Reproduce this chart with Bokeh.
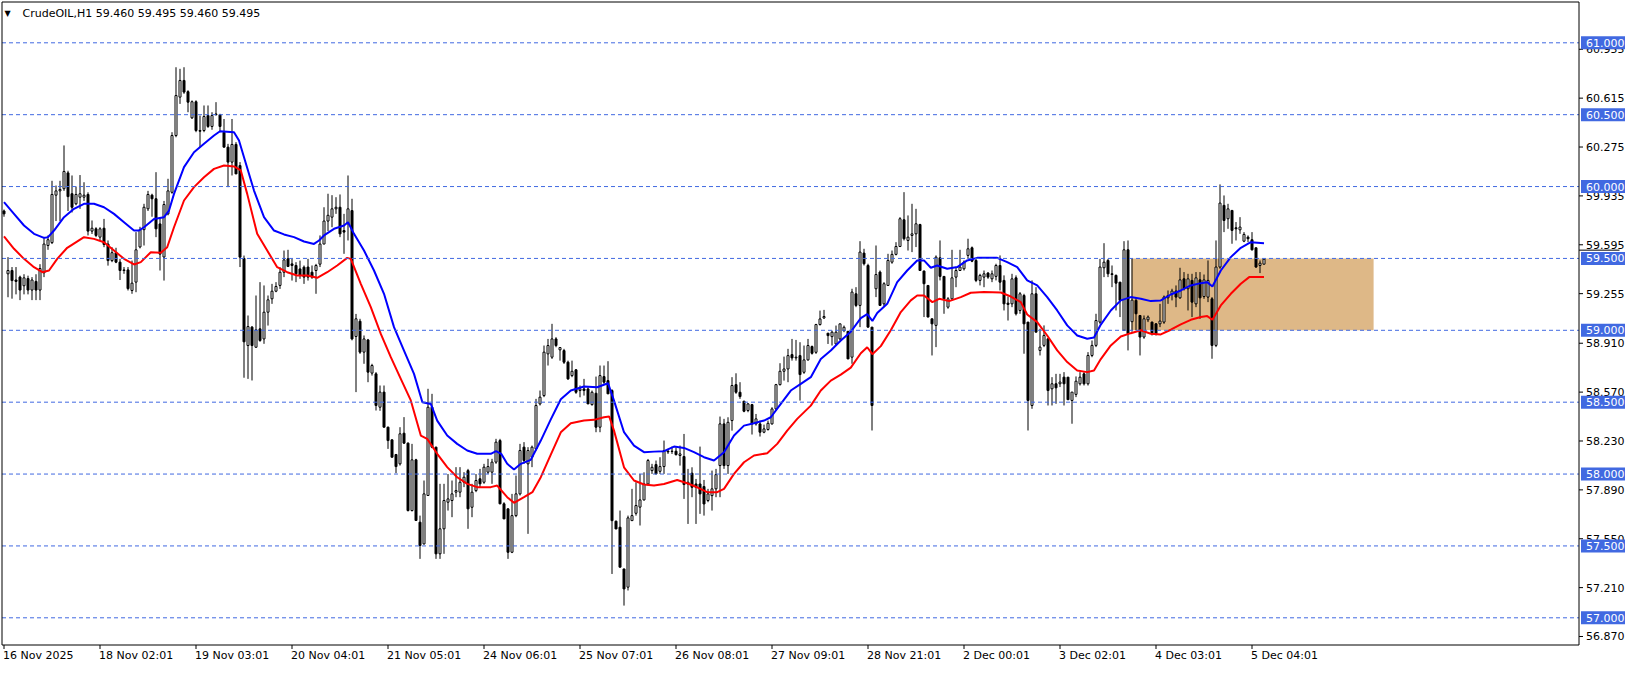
from bokeh.plotting import figure
from bokeh.models import Range1d, ColumnDataSource
from bokeh.core.properties import value
from bokeh.embed import file_html
from bokeh.resources import INLINE

# ---------------- data ----------------
symbol = "CrudeOIL,H1"

opens = [
    59.83, 59.393, 59.416, 59.35, 59.37, 59.31, 59.36, 59.28, 59.34, 59.28,
    59.40, 59.59, 59.61, 59.94, 59.97, 59.985, 60.095, 59.95, 59.88, 59.926,
    59.926, 59.945, 59.69, 59.706, 59.648, 59.71, 59.60, 59.485, 59.54, 59.474,
    59.42, 59.42, 59.277, 59.335, 59.58, 59.70, 59.845, 59.94, 59.915, 59.74,
    59.51, 59.81, 59.96, 60.355, 60.622, 60.738, 60.66, 60.478, 60.59, 60.39,
    60.39, 60.494, 60.418, 60.505, 60.50, 60.378, 60.274, 60.17, 60.293, 60.146,
    59.50, 58.894, 59.022, 58.882, 59.01, 58.94, 59.126, 59.219, 59.272, 59.312,
    59.404, 59.497, 59.462, 59.451, 59.427, 59.439, 59.44, 59.404, 59.416, 59.46,
    59.60, 59.76, 59.787, 59.845, 59.856, 59.694, 59.741, 59.833, 58.957, 59.063,
    58.848, 58.933, 58.702, 58.697, 58.465, 58.57, 58.326, 58.238, 58.136, 58.071,
    58.284, 58.215, 57.746, 58.099, 57.665, 57.514, 57.851, 58.465, 58.187, 57.445,
    57.619, 57.804, 57.816, 57.874, 57.874, 57.943, 58.024, 57.769, 57.885, 57.967,
    57.943, 58.013, 58.013, 58.083, 58.233, 57.793, 57.758, 57.456, 57.711, 57.862,
    58.187, 58.071, 58.117, 58.175, 58.488, 58.546, 58.836, 58.813, 58.94, 58.864,
    58.859, 58.778, 58.685, 58.725, 58.581, 58.592, 58.592, 58.483, 58.562, 58.326,
    58.678, 58.65, 58.581, 57.672, 57.63, 57.34, 57.213, 57.676, 57.727, 57.77,
    57.82, 57.931, 58.024, 58.066, 58.019, 58.052, 58.159, 58.157, 58.159, 58.129,
    58.122, 57.931, 58.006, 57.931, 57.931, 57.913, 57.816, 57.85, 57.897, 58.059,
    58.349, 58.059, 58.372, 58.622, 58.569, 58.507, 58.442, 58.483, 58.349, 58.349,
    58.291, 58.31, 58.349, 58.453, 58.622, 58.715, 58.731, 58.831, 58.808, 58.824,
    58.708, 58.794, 58.887, 58.847, 59.04, 59.086, 58.98, 58.956, 58.905, 58.94,
    58.998, 58.993, 58.813, 59.254, 59.173, 59.537, 59.451, 59.022, 59.289, 59.405,
    59.184, 59.312, 59.474, 59.528, 59.583, 59.769, 59.625, 59.66, 59.671, 59.736,
    59.412, 59.312, 59.08, 59.034, 59.504, 59.375, 59.161, 59.219, 59.37, 59.416,
    59.428, 59.521, 59.574, 59.486, 59.347, 59.37, 59.398, 59.358, 59.375, 59.451,
    59.347, 59.189, 59.184, 59.365, 59.138, 59.242, 59.057, 58.477, 59.254, 58.86,
    58.895, 58.941, 58.593, 58.628, 58.628, 58.674, 58.674, 58.512, 58.554, 58.628,
    58.697, 58.628, 58.825, 58.895, 59.057, 59.435, 59.486, 59.393, 59.382, 59.335,
    59.0, 59.56, 59.06, 59.208, 59.103, 58.953, 59.073, 59.057, 59.045, 59.045,
    59.057, 59.226, 59.254, 59.273, 59.226, 59.358, 59.289, 59.347, 59.184, 59.351,
    59.235, 59.231, 59.219, 58.895, 59.44, 59.869, 59.776, 59.834, 59.713, 59.699,
    59.62, 59.648, 59.63, 59.574, 59.451, 59.46,
]

highs = [
    59.84, 59.509, 59.44, 59.44, 59.38, 59.39, 59.38, 59.37, 59.39, 59.46,
    59.65, 59.66, 60.04, 60.007, 60.04, 60.286, 60.11, 60.077, 60.0, 60.08,
    60.03, 59.96, 59.764, 59.717, 59.717, 59.775, 59.625, 59.578, 59.574, 59.497,
    59.44, 59.44, 59.485, 59.683, 59.72, 59.88, 59.97, 59.95, 60.10, 59.787,
    59.90, 60.054, 60.378, 60.83, 60.819, 60.83, 60.67, 60.599, 60.60, 60.494,
    60.564, 60.564, 60.517, 60.587, 60.506, 60.47, 60.297, 60.47, 60.309, 60.17,
    59.52, 59.103, 59.03, 59.242, 59.335, 59.312, 59.242, 59.323, 59.335, 59.439,
    59.555, 59.56, 59.497, 59.474, 59.485, 59.451, 59.497, 59.451, 59.462, 59.66,
    59.856, 59.95, 59.94, 59.926, 59.945, 59.81, 60.077, 59.915, 59.114, 59.08,
    58.964, 58.94, 58.767, 58.709, 58.616, 58.616, 58.33, 58.24, 58.14, 58.326,
    58.396, 58.22, 58.21, 58.106, 57.711, 57.955, 58.593, 58.558, 58.19, 57.932,
    57.932, 58.0, 57.955, 58.048, 58.048, 58.013, 58.036, 57.932, 58.0, 58.036,
    58.071, 58.106, 58.106, 58.245, 58.245, 57.804, 57.76, 57.862, 57.99, 58.21,
    58.222, 58.187, 58.198, 58.523, 58.581, 58.894, 58.94, 59.045, 58.952, 58.882,
    58.871, 58.789, 58.789, 58.73, 58.616, 58.662, 58.604, 58.581, 58.678, 58.755,
    58.755, 58.785, 58.59, 57.676, 57.746, 57.34, 57.711, 57.897, 57.943, 58.001,
    58.012, 58.105, 58.071, 58.094, 58.117, 58.233, 58.175, 58.191, 58.186, 58.198,
    58.279, 58.036, 58.047, 57.966, 58.191, 57.959, 57.897, 58.024, 58.036, 58.4,
    58.384, 58.395, 58.674, 58.701, 58.639, 58.507, 58.493, 58.488, 58.418, 58.372,
    58.344, 58.372, 58.465, 58.627, 58.771, 58.817, 58.871, 58.94, 58.933, 58.917,
    58.894, 58.94, 58.894, 59.045, 59.137, 59.142, 58.98, 58.998, 59.033, 59.045,
    59.033, 58.993, 59.289, 59.3, 59.62, 59.567, 59.463, 59.022, 59.59, 59.416,
    59.335, 59.532, 59.555, 59.613, 59.787, 59.961, 59.799, 59.88, 59.845, 59.741,
    59.416, 59.312, 59.08, 59.521, 59.625, 59.375, 59.231, 59.56, 59.44, 59.56,
    59.486, 59.637, 59.583, 59.497, 59.393, 59.416, 59.405, 59.416, 59.463, 59.521,
    59.382, 59.235, 59.393, 59.382, 59.266, 59.254, 59.057, 59.347, 59.3, 59.011,
    59.034, 58.941, 58.674, 58.697, 58.697, 58.709, 58.674, 58.57, 58.679, 58.709,
    58.709, 58.848, 58.929, 59.115, 59.497, 59.606, 59.497, 59.451, 59.388, 59.335,
    59.62, 59.625, 59.50, 59.23, 59.103, 59.103, 59.103, 59.06, 59.05, 59.184,
    59.242, 59.277, 59.289, 59.312, 59.435, 59.405, 59.393, 59.393, 59.405, 59.405,
    59.388, 59.486, 59.231, 59.625, 60.015, 59.938, 59.88, 59.834, 59.753, 59.787,
    59.683, 59.66, 59.683, 59.574, 59.486, 59.495,
]

lows = [
    59.79, 59.23, 59.22, 59.25, 59.21, 59.25, 59.25, 59.21, 59.21, 59.21,
    59.37, 59.56, 59.60, 59.76, 59.76, 59.97, 59.83, 59.82, 59.87, 59.845,
    59.90, 59.66, 59.67, 59.648, 59.625, 59.578, 59.45, 59.474, 59.467, 59.35,
    59.393, 59.277, 59.254, 59.265, 59.57, 59.59, 59.83, 59.79, 59.648, 59.416,
    59.346, 59.80, 59.95, 60.343, 60.575, 60.645, 60.517, 60.47, 60.378, 60.274,
    60.378, 60.408, 60.395, 60.494, 60.378, 60.274, 59.996, 60.077, 60.088, 59.44,
    58.67, 58.662, 58.651, 58.88, 58.92, 58.906, 59.033, 59.184, 59.265, 59.288,
    59.37, 59.44, 59.346, 59.335, 59.358, 59.323, 59.346, 59.358, 59.254, 59.44,
    59.60, 59.69, 59.717, 59.81, 59.648, 59.532, 59.625, 58.93, 58.57, 58.836,
    58.767, 58.639, 58.685, 58.442, 58.44, 58.326, 58.175, 58.117, 58.006, 58.059,
    58.21, 57.74, 57.74, 57.675, 57.41, 57.51, 57.85, 58.18, 57.41, 57.41,
    57.445, 57.746, 57.70, 57.839, 57.839, 57.909, 57.619, 57.70, 57.874, 57.909,
    57.932, 58.0, 57.932, 58.071, 57.79, 57.688, 57.41, 57.45, 57.70, 57.851,
    58.071, 57.584, 58.048, 58.164, 58.477, 58.535, 58.755, 58.801, 58.882, 58.789,
    58.766, 58.655, 58.674, 58.558, 58.534, 58.546, 58.488, 58.476, 58.291, 58.291,
    58.627, 58.558, 57.305, 57.618, 57.352, 57.085, 57.19, 57.676, 57.711, 57.642,
    57.816, 57.92, 58.001, 58.0, 58.001, 58.001, 58.14, 58.14, 58.129, 58.059,
    57.827, 57.653, 57.839, 57.653, 57.723, 57.711, 57.804, 57.746, 57.839, 57.839,
    58.036, 58.001, 58.302, 58.558, 58.523, 58.43, 58.43, 58.275, 58.337, 58.261,
    58.284, 58.302, 58.344, 58.442, 58.616, 58.65, 58.639, 58.789, 58.789, 58.511,
    58.697, 58.789, 58.831, 58.836, 59.033, 59.079, 58.905, 58.894, 58.894, 58.933,
    58.987, 58.80, 58.767, 59.161, 59.022, 59.451, 59.02, 58.303, 59.231, 59.173,
    59.161, 59.31, 59.463, 59.521, 59.579, 59.625, 59.555, 59.544, 59.579, 59.416,
    59.092, 59.092, 58.825, 58.883, 59.347, 59.115, 59.15, 59.208, 59.3, 59.416,
    59.416, 59.497, 59.474, 59.335, 59.312, 59.3, 59.358, 59.335, 59.347, 59.277,
    59.138, 59.068, 59.161, 59.103, 59.115, 58.837, 58.303, 58.454, 58.987, 58.825,
    58.883, 58.477, 58.477, 58.489, 58.605, 58.477, 58.517, 58.35, 58.535, 58.616,
    58.616, 58.616, 58.813, 58.883, 59.045, 59.37, 59.37, 59.3, 59.138, 59.092,
    59.0, 58.86, 58.99, 59.00, 58.825, 58.941, 59.057, 58.964, 58.964, 59.022,
    59.045, 59.184, 59.208, 59.161, 59.219, 59.277, 59.138, 59.092, 59.161, 59.08,
    59.219, 59.196, 58.802, 58.883, 59.428, 59.683, 59.706, 59.602, 59.625, 59.671,
    59.613, 59.613, 59.555, 59.435, 59.398, 59.46,
]

closes = [
    59.81, 59.416, 59.346, 59.34, 59.28, 59.365, 59.28, 59.35, 59.28, 59.43,
    59.60, 59.63, 59.945, 59.97, 59.98, 60.105, 59.93, 59.856, 59.945, 59.95,
    59.94, 59.69, 59.71, 59.66, 59.706, 59.597, 59.485, 59.54, 59.474, 59.416,
    59.416, 59.29, 59.328, 59.56, 59.70, 59.856, 59.945, 59.915, 59.706, 59.53,
    59.875, 59.97, 60.355, 60.633, 60.738, 60.657, 60.587, 60.59, 60.39, 60.385,
    60.487, 60.418, 60.494, 60.50, 60.418, 60.274, 60.17, 60.293, 60.088, 59.509,
    58.92, 59.026, 58.894, 59.003, 58.929, 59.126, 59.212, 59.272, 59.305, 59.404,
    59.49, 59.444, 59.451, 59.393, 59.381, 59.37, 59.37, 59.37, 59.451, 59.60,
    59.76, 59.80, 59.845, 59.856, 59.671, 59.683, 59.845, 58.94, 59.08, 58.848,
    58.94, 58.709, 58.755, 58.477, 58.57, 58.326, 58.233, 58.117, 58.052, 58.28,
    58.215, 57.746, 58.099, 57.677, 57.503, 57.862, 58.465, 58.187, 57.445, 57.619,
    57.816, 57.827, 57.862, 57.885, 57.943, 57.978, 57.758, 57.874, 57.955, 57.932,
    58.048, 58.052, 58.083, 58.222, 57.793, 57.688, 57.456, 57.711, 57.862, 58.164,
    58.094, 58.164, 58.187, 58.477, 58.535, 58.848, 58.894, 58.94, 58.894, 58.88,
    58.778, 58.662, 58.715, 58.569, 58.592, 58.581, 58.488, 58.569, 58.326, 58.685,
    58.639, 58.558, 57.676, 57.618, 57.352, 57.201, 57.695, 57.711, 57.781, 57.82,
    57.931, 58.094, 58.047, 58.001, 58.052, 58.163, 58.154, 58.159, 58.135, 58.14,
    57.927, 57.943, 57.908, 57.908, 57.862, 57.792, 57.862, 57.897, 57.996, 58.349,
    58.059, 58.36, 58.616, 58.569, 58.539, 58.437, 58.488, 58.349, 58.384, 58.291,
    58.314, 58.353, 58.453, 58.622, 58.715, 58.731, 58.824, 58.808, 58.813, 58.692,
    58.794, 58.894, 58.84, 59.04, 59.079, 59.096, 58.963, 58.987, 58.987, 59.045,
    59.021, 58.801, 59.266, 59.173, 59.544, 59.463, 59.022, 58.477, 59.388, 59.173,
    59.324, 59.486, 59.528, 59.583, 59.776, 59.637, 59.648, 59.671, 59.741, 59.416,
    59.324, 59.092, 59.045, 59.509, 59.375, 59.219, 59.219, 59.365, 59.416, 59.44,
    59.474, 59.567, 59.481, 59.347, 59.382, 59.393, 59.37, 59.393, 59.451, 59.335,
    59.184, 59.18, 59.358, 59.115, 59.254, 59.045, 58.512, 59.254, 58.987, 58.883,
    58.964, 58.581, 58.628, 58.6, 58.64, 58.628, 58.517, 58.57, 58.646, 58.674,
    58.628, 58.825, 58.895, 59.068, 59.44, 59.474, 59.393, 59.388, 59.328, 59.208,
    59.56, 58.976, 59.21, 59.115, 58.953, 59.08, 59.092, 58.976, 58.976, 59.064,
    59.231, 59.242, 59.273, 59.231, 59.351, 59.289, 59.358, 59.196, 59.365, 59.226,
    59.351, 59.347, 58.895, 59.44, 59.885, 59.764, 59.845, 59.695, 59.706, 59.718,
    59.667, 59.637, 59.56, 59.44, 59.467, 59.495,
]

# moving averages, sampled along the drawn lines (bar index, price)
blue_ma_bar = [0, 2.5, 5, 7.5, 10, 11, 12.5, 15, 17.5, 20, 22.5, 25, 27.5, 30, 32.5, 33.75, 35, 37.5, 40, 41.25,
               42.5, 45, 47.5, 50, 52.5, 54, 57.5, 58.75, 60, 62.5, 65, 67.5, 70, 72.5, 75, 77.5, 78.75, 80, 82.5, 85,
               86, 87.5, 90, 92.5, 95, 97.5, 100, 102.5, 104.6, 106.7, 108.3, 110.8, 113.3, 115.8, 118.3, 121.7, 123,
               124.3, 125.8, 127.5, 129.2, 131.7, 134.2, 136.7, 139.2, 141.7, 145, 148.3, 151, 152.5, 155, 157.5, 160,
               162.5, 165, 167.5, 170, 172.5, 175, 177.5, 180, 182.5, 185, 187.5, 190, 191.7, 194.2, 196.7, 199.2,
               201.7, 204.2, 206.7, 209.2, 211.7, 214.2, 215.8, 217.1, 218.3, 220.8, 223.3, 225.8, 228.3, 230, 231.7,
               233.3, 235.8, 238.3, 240.8, 243.3, 248.3, 250.8, 253.3, 255.8, 258.3, 260.8, 263.3, 265.8, 268.3, 270.8,
               272.5, 274.2, 276.7, 279.2, 281.7, 284.2, 286.7, 289.2, 291.7, 294.2, 296.7, 299.2, 300.8, 302.1, 304.2,
               306.7, 309.2, 311.7, 315]
blue_ma_val = [59.891, 59.81, 59.729, 59.671, 59.643, 59.648, 59.694, 59.787, 59.845, 59.88, 59.88, 59.856, 59.81,
               59.752, 59.694, 59.694, 59.717, 59.775, 59.787, 59.833, 59.949, 60.135, 60.239, 60.297, 60.355, 60.385,
               60.378, 60.32, 60.204, 59.972, 59.787, 59.694, 59.667, 59.648, 59.618, 59.601, 59.625, 59.66, 59.706,
               59.729, 59.752, 59.671, 59.555, 59.416, 59.254, 59.022, 58.859, 58.697, 58.5, 58.488, 58.372, 58.268,
               58.21, 58.164, 58.141, 58.141, 58.159, 58.141, 58.071, 58.032, 58.071, 58.099, 58.233, 58.38, 58.52,
               58.581, 58.609, 58.604, 58.632, 58.511, 58.291, 58.198, 58.152, 58.156, 58.159, 58.191, 58.182, 58.152,
               58.117, 58.094, 58.152, 58.268, 58.337, 58.353, 58.372, 58.395, 58.488, 58.581, 58.627, 58.674, 58.801,
               58.859, 58.929, 58.99, 59.085, 59.112, 59.065, 59.12, 59.184, 59.335, 59.416, 59.486, 59.486, 59.435,
               59.451, 59.428, 59.44, 59.486, 59.504, 59.504, 59.474, 59.44, 59.347, 59.312, 59.231, 59.138, 59.034,
               58.964, 58.941, 58.95, 59.04, 59.138, 59.208, 59.231, 59.219, 59.203, 59.208, 59.249, 59.277, 59.312,
               59.328, 59.335, 59.305, 59.416, 59.509, 59.574, 59.613, 59.606]

red_ma_bar = [0, 2.5, 5, 7.5, 9.6, 11.25, 13.3, 15.8, 20, 22.5, 25, 27.5, 30, 32.5, 34.2, 36.7, 39.2, 40.8, 42.5, 45,
              47.5, 50, 52.5, 55, 57.5, 59.2, 60.8, 63.3, 65.8, 68.3, 70.8, 73.3, 75.8, 78.3, 80.8, 83.3, 85.8, 86.7,
              89.2, 91.7, 94.2, 96.7, 99.2, 101.7, 104.2, 105.8, 108.3, 110.8, 113.3, 115.8, 118.3, 121.7, 123.3,
              125.8, 127.5, 130, 132.1, 134.2, 136.7, 139.2, 141.7, 145, 147.5, 150, 151.3, 152.5, 155, 157.5, 160,
              162.5, 165, 168.3, 170.8, 173.3, 175.8, 178.3, 180, 182.5, 185, 187.5, 190.8, 193.3, 195.8, 198.3,
              201.7, 204.2, 206.7, 209.2, 211.7, 214.2, 215.8, 217.1, 219.2, 221.7, 224.2, 226.7, 228.3, 230, 232.1,
              233.8, 236.3, 239.2, 241.7, 245, 249.2, 251.7, 254.2, 255.8, 258.3, 260.8, 263.3, 265.8, 268.3, 270.8,
              272.5, 274.2, 276.7, 279.2, 281.7, 284.2, 286.7, 289.2, 291.7, 294.2, 296.7, 299.2, 300.8, 302.1, 304.2,
              306.7, 309.2, 311.3, 315]
red_ma_val = [59.653, 59.567, 59.497, 59.439, 59.404, 59.416, 59.497, 59.574, 59.648, 59.636, 59.613, 59.555, 59.497,
              59.458, 59.474, 59.543, 59.539, 59.578, 59.717, 59.903, 59.996, 60.065, 60.123, 60.146, 60.14, 60.112,
              59.949, 59.671, 59.555, 59.439, 59.404, 59.381, 59.381, 59.365, 59.404, 59.451, 59.504, 59.497, 59.323,
              59.161, 58.975, 58.813, 58.662, 58.512, 58.268, 58.245, 58.141, 58.048, 57.978, 57.932, 57.909, 57.909,
              57.92, 57.839, 57.8, 57.839, 57.874, 57.978, 58.135, 58.29, 58.353, 58.372, 58.377, 58.395, 58.4,
              58.302, 58.047, 57.955, 57.927, 57.92, 57.931, 57.959, 57.936, 57.908, 57.874, 57.874, 57.897, 58.001,
              58.082, 58.129, 58.145, 58.21, 58.302, 58.384, 58.476, 58.581, 58.65, 58.692, 58.74, 58.84, 58.882,
              58.834, 58.89, 59.0, 59.127, 59.208, 59.242, 59.242, 59.196, 59.219, 59.203, 59.231, 59.261, 59.266,
              59.263, 59.235, 59.196, 59.11, 59.057, 58.964, 58.86, 58.779, 58.721, 58.709, 58.721, 58.8, 58.895,
              58.957, 58.98, 59.0, 58.976, 58.971, 59.004, 59.041, 59.073, 59.092, 59.099, 59.073, 59.173, 59.254,
              59.324, 59.37, 59.37]

level_lines = [57.0, 57.5, 58.0, 58.5, 59.0, 59.5, 60.0, 60.5, 61.0]
price_ticks = [56.870, 57.210, 57.550, 57.890, 58.230, 58.570, 58.910, 59.255, 59.595, 59.935, 60.275, 60.615, 60.955]

date_tick_bars = [0, 24, 48, 72, 96, 120, 144, 168, 192, 216, 240, 264, 288, 312]
date_labels = ["16 Nov 2025", "18 Nov 02:01", "19 Nov 03:01", "20 Nov 04:01", "21 Nov 05:01", "24 Nov 06:01",
               "25 Nov 07:01", "26 Nov 08:01", "27 Nov 09:01", "28 Nov 21:01", "2 Dec 00:01", "3 Dec 02:01",
               "4 Dec 03:01", "5 Dec 04:01"]

zone_left_bar, zone_right_bar = 281.9, 342.4
zone_top, zone_bottom = 59.5, 59.0

# ---------------- layout (pixel geometry of the canvas) ----------------
FONT = value("DejaVu Sans")
FS = value("11px")
W, H = 1625, 662
PPB = 4.0                 # pixels per bar
X0 = -0.875               # bar value at the left canvas edge
X1 = X0 + W / PPB
PPU = 143.75              # pixels per price unit
Y1 = 61 + 42.3 / PPU      # price at the top canvas edge
Y0 = Y1 - H / PPU


def dx(px):
    return X0 + px / PPB


def dy(py):
    return Y1 - py / PPU


BOX_L, BOX_R, BOX_T, BOX_B = 1.5, 1578.5, 1.5, 644.5

p = figure(width=W, height=H, output_backend="svg", toolbar_location=None,
           x_range=Range1d(X0, X1), y_range=Range1d(Y0, Y1),
           x_axis_location=None, y_axis_location=None, min_border=0)
p.grid.visible = False
p.outline_line_color = None
p.background_fill_color = "white"
p.border_fill_color = "white"

# zone rectangle (behind the candles)
p.quad(left=[zone_left_bar], right=[zone_right_bar], top=[zone_top], bottom=[zone_bottom],
       fill_color="#DEB887", line_color=None)

# candles
n = len(closes)
src = ColumnDataSource(dict(
    x=list(range(n)), l=lows, h=highs,
    top=[max(a, b) for a, b in zip(opens, closes)],
    bot=[min(a, b) for a, b in zip(opens, closes)],
    fill=["white" if c >= o else "black" for o, c in zip(opens, closes)],
))
p.segment(x0="x", y0="l", x1="x", y1="h", source=src, line_color="black", line_width=1)
p.vbar(x="x", width=0.5, top="top", bottom="bot", fill_color="fill", line_color="black",
       line_width=1, source=src)

# moving averages
p.line(blue_ma_bar, blue_ma_val, line_color="#0000FF", line_width=2)
p.line(red_ma_bar, red_ma_val, line_color="#FF0000", line_width=2)

# horizontal level lines
nl = len(level_lines)
p.segment(x0=[dx(BOX_L)] * nl, x1=[dx(BOX_R)] * nl, y0=level_lines, y1=level_lines,
          line_color="#4169E1", line_width=1, line_dash="4 3")

# chart box
p.segment(x0=[dx(BOX_L), dx(BOX_L), dx(BOX_L), dx(BOX_R)],
          x1=[dx(BOX_R), dx(BOX_R), dx(BOX_L), dx(BOX_R)],
          y0=[dy(BOX_T), dy(BOX_B), dy(BOX_T), dy(BOX_T)],
          y1=[dy(BOX_T), dy(BOX_B), dy(BOX_B), dy(BOX_B)],
          line_color="black", line_width=1)

# price scale on the right: ticks + labels
nt = len(price_ticks)
p.segment(x0=[dx(BOX_R)] * nt, x1=[dx(BOX_R + 4)] * nt, y0=price_ticks, y1=price_ticks,
          line_color="black", line_width=1)
p.text(x=[dx(BOX_R + 7)] * nt, y=price_ticks, text=[f"{t:.3f}" for t in price_ticks],
       text_font=FONT, text_font_size=FS, text_color="black", text_baseline="middle", text_align="left")

# top edge of the hidden bid-price marker, just above the 59.500 label
p.segment(x0=[dx(BOX_R)], x1=[dx(W - 6)], y0=[closes[-1] + 9 / PPU], y1=[closes[-1] + 9 / PPU],
          line_color="black", line_width=1)

# blue level labels on the price scale
p.quad(left=[dx(BOX_R + 2)] * nl, right=[dx(W)] * nl,
       top=[v + 6.5 / PPU for v in level_lines], bottom=[v - 6.5 / PPU for v in level_lines],
       fill_color="#4169E1", line_color=None)
p.text(x=[dx(BOX_R + 7)] * nl, y=level_lines, text=[f"{v:.3f}" for v in level_lines],
       text_font=FONT, text_font_size=FS, text_color="white", text_baseline="middle", text_align="left")

# time scale at the bottom: ticks + labels starting at the tick
nd = len(date_tick_bars)
p.segment(x0=date_tick_bars, x1=date_tick_bars, y0=[dy(BOX_B)] * nd, y1=[dy(BOX_B + 4)] * nd,
          line_color="black", line_width=1)
p.text(x=[b - 0.25 for b in date_tick_bars], y=[dy(BOX_B + 10)] * nd, text=date_labels,
       text_font=FONT, text_font_size=FS, text_color="black", text_baseline="middle", text_align="left")

# title
title_txt = f"{symbol}  {opens[-1]:.3f} {highs[-1]:.3f} {lows[-1]:.3f} {closes[-1]:.3f}"
p.text(x=[dx(4)], y=[dy(12.5)], text=["\u25BC"], text_font=FONT, text_font_size=value("8px"),
       text_color="black", text_baseline="middle", text_align="left")
p.text(x=[dx(22)], y=[dy(12.5)], text=[title_txt], text_font=FONT, text_font_size=FS,
       text_color="black", text_baseline="middle", text_align="left")

open("out.html", "w").write(file_html(p, INLINE))
